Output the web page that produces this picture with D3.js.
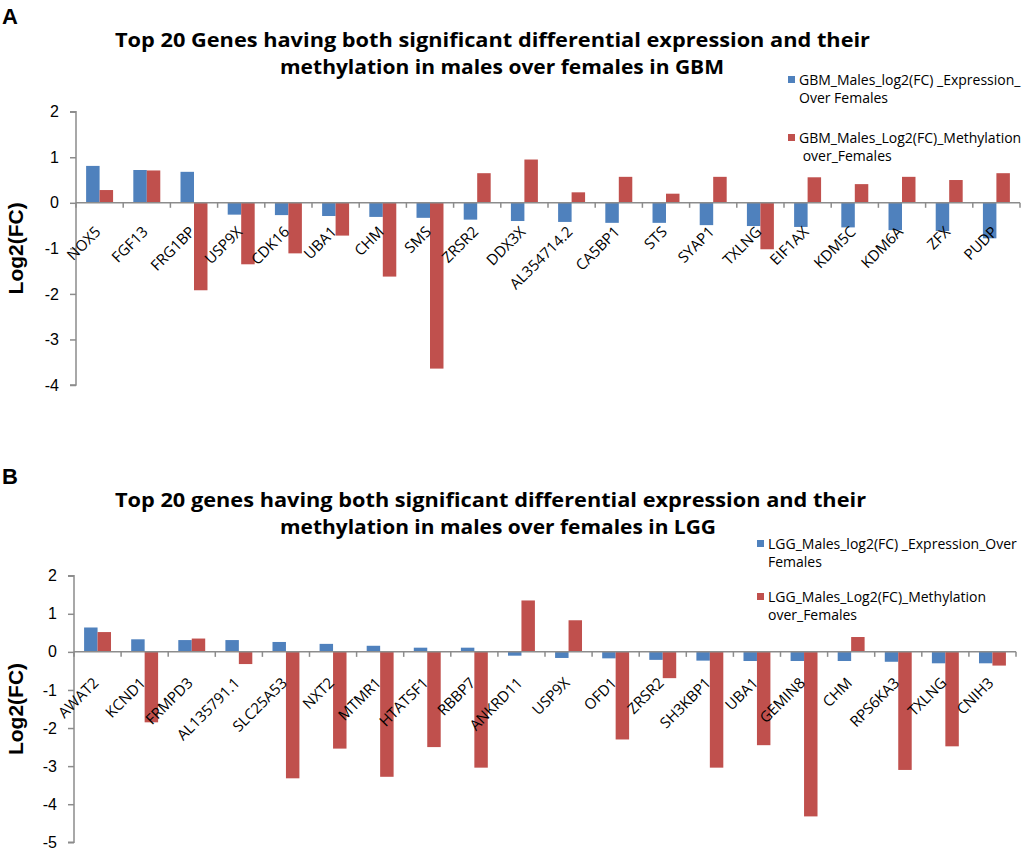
<!DOCTYPE html>
<html lang="en">
<head>
  <meta charset="UTF-8" />
  <title>Top 20 genes - GBM / LGG</title>
  <script src="https://cdnjs.cloudflare.com/ajax/libs/d3/7.8.2/d3.min.js"></script>
  <style>
    body {
      margin: 0;
      padding: 0;
      background: #fff;
    }
    svg {
      display: block;
      background: #fff;
      font-family: "Open Sans", "Liberation Sans", sans-serif;
    }
    .axis-line {
      stroke: #8c8c8c;
      stroke-width: 1.5px;
    }
    .tick-label {
      font-size: 16px;
      fill: #000;
    }
    .cat-label {
      font-size: 15px;
      fill: #000;
    }
    .title {
      font-size: 20px;
      font-weight: bold;
      fill: #000;
    }
    .legend text {
      font-size: 14px;
      fill: #000;
    }
  </style>
</head>
<body>

<svg id="chart" width="1023" height="848"></svg>

<script>
/* -------------------------------------------------------
   DATA
------------------------------------------------------- */
const genesA = ["NOX5", "FGF13", "FRG1BP", "USP9X", "CDK16", "UBA1", "CHM", "SMS", "ZRSR2", "DDX3X",
  "AL354714.2", "CA5BP1", "STS", "SYAP1", "TXLNG", "EIF1AX", "KDM5C", "KDM6A", "ZFX", "PUDP"];
const exprA = [0.81, 0.72, 0.68, -0.26, -0.27, -0.29, -0.31, -0.33, -0.37, -0.40,
  -0.42, -0.44, -0.44, -0.49, -0.51, -0.53, -0.54, -0.60, -0.62, -0.78];
const methA = [0.28, 0.71, -1.92, -1.35, -1.11, -0.72, -1.62, -3.64, 0.65, 0.95,
  0.23, 0.57, 0.20, 0.57, -1.02, 0.56, 0.41, 0.57, 0.50, 0.65];

const genesB = ["AWAT2", "KCND1", "FRMPD3", "AL135791.1", "SLC25A53", "NXT2", "MTMR1", "HTATSF1", "RBBP7", "ANKRD11",
  "USP9X", "OFD1", "ZRSR2", "SH3KBP1", "UBA1", "GEMIN8", "CHM", "RPS6KA3", "TXLNG", "CNIH3"];
const exprB = [0.64, 0.33, 0.31, 0.31, 0.26, 0.21, 0.16, 0.11, 0.11, -0.10,
  -0.16, -0.17, -0.21, -0.23, -0.24, -0.24, -0.24, -0.26, -0.30, -0.30];
const methB = [0.52, -1.85, 0.35, -0.32, -3.32, -2.54, -3.28, -2.50, -3.04, 1.35,
  0.83, -2.30, -0.69, -3.04, -2.45, -4.32, 0.39, -3.10, -2.48, -0.36];

const yTicksA = [2, 1, 0, -1, -2, -3, -4];
const yTicksB = [2, 1, 0, -1, -2, -3, -4, -5];

const titleA = ["Top 20 Genes having both significant differential expression and their",
  "methylation in males over females in GBM"];
const titleB = ["Top 20 genes having both significant differential expression and their",
  "methylation in males over females in LGG"];

const legendA = [["GBM_Males_log2(FC) _Expression_", "Over Females"],
  ["GBM_Males_Log2(FC)_Methylation", " over_Females"]];
const legendB = [["LGG_Males_log2(FC) _Expression_Over", "Females"],
  ["LGG_Males_Log2(FC)_Methylation", "over_Females"]];

const seriesKeys = ["expr", "meth"];
const colors = { expr: "#4f81bd", meth: "#c0504d" };

const svg = d3.select("#chart");

/* -------------------------------------------------------
   PANEL
------------------------------------------------------- */
function drawPanel(cfg) {
  const g = svg.append("g");

  const rows = cfg.genes.map((gene, i) => ({ gene, expr: cfg.expr[i], meth: cfg.meth[i] }));

  const x0 = d3.scaleBand().domain(cfg.genes).range([cfg.x0, cfg.x1]).padding(0);
  const x1 = d3.scaleBand().domain(seriesKeys).range([0, x0.bandwidth()])
    .paddingInner(0).paddingOuter(0.75);
  const y = d3.scaleLinear().domain(cfg.yDomain).range([cfg.yBottom, cfg.yTop]);

  // panel letter
  g.append("text")
    .attr("x", 2).attr("y", cfg.letterY)
    .attr("font-size", 22).attr("font-weight", "bold")
    .attr("font-family", "'Liberation Sans', Arial, sans-serif")
    .text(cfg.letter);

  // title
  cfg.title.forEach((line, i) => {
    g.append("text")
      .attr("class", "title")
      .attr("x", cfg.titleX[i])
      .attr("y", cfg.titleY + i * 27)
      .attr("textLength", cfg.titleW[i])
      .attr("lengthAdjust", "spacingAndGlyphs")
      .text(line);
  });

  // y axis
  const yAxis = d3.axisLeft(y).tickValues(cfg.yTicks).tickSize(6).tickPadding(11)
    .tickFormat(d3.format("d"));
  const ya = g.append("g").attr("transform", `translate(${cfg.x0},0)`).call(yAxis);
  ya.select(".domain").attr("class", "axis-line").attr("fill", "none")
    .attr("d", `M-6,${y(cfg.yDomain[1])}H0V${y(cfg.yDomain[0])}H-6`);
  ya.selectAll(".tick line").attr("stroke", "#8c8c8c").attr("stroke-width", 1.5);
  ya.selectAll(".tick text").attr("class", "tick-label")
    .text(d => d < 0 ? "-" + Math.abs(d) : d);

  // y title
  g.append("text")
    .attr("transform", `translate(${cfg.yLabelX},${(y(cfg.yDomain[0]) + y(cfg.yDomain[1])) / 2 + cfg.yLabelShift}) rotate(-90)`)
    .attr("text-anchor", "middle")
    .attr("font-size", 21).attr("font-weight", "bold")
    .attr("font-family", "'Liberation Sans', Arial, sans-serif")
    .text("Log2(FC)");

  // bars
  const groups = g.append("g").selectAll("g")
    .data(rows).join("g")
    .attr("transform", d => `translate(${x0(d.gene)},0)`);

  groups.selectAll("rect")
    .data(d => seriesKeys.map(k => ({ key: k, value: d[k] })))
    .join("rect")
    .attr("x", d => x1(d.key))
    .attr("width", x1.bandwidth())
    .attr("y", d => y(Math.max(0, d.value)))
    .attr("height", d => Math.abs(y(d.value) - y(0)))
    .attr("fill", d => colors[d.key]);

  // x axis line at zero with category ticks
  const zero = y(0);
  g.append("line").attr("class", "axis-line")
    .attr("x1", cfg.x0).attr("x2", cfg.x1)
    .attr("y1", zero).attr("y2", zero);
  g.append("g").selectAll("line")
    .data(cfg.genes.concat(["_end"]))
    .join("line")
    .attr("class", "axis-line")
    .attr("x1", (d, i) => i < cfg.genes.length ? x0(d) : cfg.x1)
    .attr("x2", (d, i) => i < cfg.genes.length ? x0(d) : cfg.x1)
    .attr("y1", zero).attr("y2", zero + 5);

  // category labels
  g.append("g").selectAll("text")
    .data(cfg.genes).join("text")
    .attr("class", "cat-label")
    .attr("text-anchor", "end")
    .attr("transform", d => `translate(${x0(d) + x0.bandwidth() / 2 + cfg.labelDx},${zero + cfg.labelDy}) rotate(-45)`)
    .text(d => d);

  // legend
  const lg = g.append("g").attr("class", "legend");
  cfg.legend.forEach((lines, i) => {
    const ly = cfg.legendY[i];
    lg.append("rect")
      .attr("x", cfg.legendX).attr("y", ly - 9)
      .attr("width", 7).attr("height", 7)
      .attr("fill", colors[seriesKeys[i]]);
    lines.forEach((t, j) => {
      lg.append("text")
        .attr("x", cfg.legendX + 11)
        .attr("y", ly + j * 17.5)
        .attr("xml:space", "preserve")
        .style("white-space", "pre")
        .text(t);
    });
  });
}

drawPanel({
  letter: "A", letterY: 24,
  genes: genesA, expr: exprA, meth: methA,
  yDomain: [-4, 2], yTicks: yTicksA,
  x0: 76, x1: 1020, yTop: 111.7, yBottom: 385,
  title: titleA, titleX: [115, 280], titleY: 47, titleW: [755, 444],
  yLabelX: 23, yLabelShift: 0,
  labelDx: 2, labelDy: 30,
  legend: legendA, legendX: 788, legendY: [85, 143]
});

drawPanel({
  letter: "B", letterY: 484,
  genes: genesB, expr: exprB, meth: methB,
  yDomain: [-5, 2], yTicks: yTicksB,
  x0: 74, x1: 1016, yTop: 575.7, yBottom: 842.3,
  title: titleB, titleX: [115, 280], titleY: 507, titleW: [751, 436],
  yLabelX: 23, yLabelShift: 0,
  labelDx: 2, labelDy: 32,
  legend: legendB, legendX: 757, legendY: [549, 602]
});
</script>

</body>
</html>
